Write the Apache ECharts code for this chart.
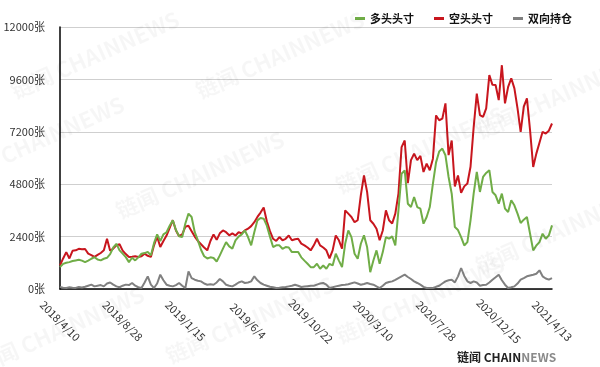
<!DOCTYPE html>
<html>
<head>
<meta charset="utf-8">
<script src="https://cdn.jsdelivr.net/npm/echarts@6/dist/echarts.min.js"></script>
<style>
html,body{margin:0;padding:0;background:#fff;}
#c{width:600px;height:367px;}
</style>
</head>
<body>
<div id="c"></div>
<script>
var startDate = [2018, 4, 10];
var weekCount = 158;
var seriesNames = ['多头头寸', '空头头寸', '双向持仓'];
var yTicks = [0, 2400, 4800, 7200, 9600, 12000];

var longPos = [
1000,1150,1200,1230,1280,1310,1340,1300,1230,1300,
1385,1460,1350,1310,1385,1430,1600,1900,2070,1770,
1620,1460,1230,1430,1310,1450,1614,1645,1700,1540,
2100,2500,2200,2500,2600,2900,3150,2700,2420,2380,
3000,3450,3300,2600,2230,1800,1500,1400,1450,1420,
1260,1540,1850,2150,1950,1850,2230,2400,2500,2680,
2380,2000,2600,3144,3250,3220,2900,2400,1920,2000,
2000,1843,1920,1900,1690,1700,1690,1450,1300,1155,
1000,1000,1155,926,1079,926,1155,1079,1614,1300,
1002,2072,2686,2378,1614,1385,2072,2456,1920,771,
1308,1767,1155,1690,2378,2302,2410,2000,3603,5279,
5432,3905,3753,4212,3753,3677,2992,3297,3753,4824,
5800,6300,6430,6124,5130,4365,2835,2700,2378,1995,
2148,3145,4369,5363,4445,5133,5317,5440,4445,4292,
3910,4369,3680,3527,4062,3833,3450,3022,3175,3297,
2532,1767,1995,2148,2532,2302,2455,2914
];
var shortPos = [
1080,1400,1690,1400,1750,1770,1840,1820,1830,1620,
1550,1470,1560,1650,1770,2300,1750,1850,2000,2050,
1760,1600,1470,1480,1500,1470,1500,1620,1520,1470,
2000,2400,1920,2200,2450,2800,3150,2680,2420,2500,
2850,2900,2650,2400,2200,2050,1900,1770,2200,2500,
2250,2550,2680,2600,2460,2550,2450,2600,2550,2680,
2760,2880,3060,3300,3500,3730,3100,2650,2300,2200,
2380,2230,2300,2450,2230,2280,2300,2080,2000,1900,
1770,2000,2300,2000,1900,1770,1400,1770,2450,2230,
1850,3600,3450,3300,3060,3150,4300,5200,4450,3150,
2990,2760,2230,2680,3600,3150,3000,3450,4365,6500,
6800,4850,5900,6200,5900,6100,5360,5740,5440,5970,
7950,7730,7800,8500,6130,6800,4700,5200,4400,4700,
4830,5600,7400,8950,7960,7880,8270,9800,9350,9340,
8650,10250,8500,9260,9650,9190,8270,7200,8350,8730,
7270,5590,6200,6700,7200,7120,7250,7580
];
var bothPos = [
90,60,50,80,60,50,90,70,100,150,
200,120,150,180,120,250,300,200,120,80,
150,200,180,275,150,80,45,300,580,200,
45,250,656,400,197,150,120,180,275,150,
45,810,500,427,380,350,250,197,220,197,
300,457,350,197,150,120,200,300,350,275,
300,350,580,400,275,200,150,100,80,45,
60,80,90,120,150,197,150,90,110,130,
150,150,200,250,275,200,45,80,120,150,
180,197,220,260,303,250,197,230,275,230,
197,120,45,150,275,320,350,420,503,580,
656,550,457,350,275,197,100,45,45,45,
100,150,250,350,400,427,303,580,962,600,
350,275,350,300,150,180,197,300,427,540,
656,400,197,45,80,120,250,427,500,580,
620,656,700,855,580,480,427,503
];

var categories = [];
(function(){
  var d = new Date(Date.UTC(startDate[0], startDate[1]-1, startDate[2]));
  for (var i = 0; i < weekCount; i++) {
    categories.push(d.getUTCFullYear() + '/' + (d.getUTCMonth()+1) + '/' + d.getUTCDate());
    d = new Date(d.getTime() + 7*86400000);
  }
})();

var colors = ['#70AD47', '#C8161E', '#808080'];
var font = '"Noto Sans CJK SC", "Noto Sans", sans-serif';

var wm = [];
var wmPos = [[95,55],[280,55],[560,95],[40,140],[200,175],[420,150],[560,230],[60,330],[250,320],[420,300]];
wmPos.forEach(function(p){
  wm.push({
    type:'text', x:p[0], y:p[1], rotation:0.42, z:100, silent:true,
    style:{text:'链闻 CHAINNEWS', fill:'rgba(0,0,0,0.035)', font:'bold 22px ' + font, textAlign:'center', textVerticalAlign:'middle'}
  });
});
wm.push({type:'text', left:457, top:351, z:100,
  style:{
    text:'{a|链闻 CHAIN}{b|NEWS}',
    rich:{
      a:{fill:'#222', font:'bold 12px ' + font},
      b:{fill:'#8a8a8a', font:'bold 12px ' + font}
    }
  }});

var chart = echarts.init(document.getElementById('c'), null, {renderer:'canvas'});
chart.setOption({
  animation:false,
  color: colors,
  textStyle:{fontFamily: font},
  legend:{
    right:23, top:8, itemWidth:10, itemHeight:3, itemGap:20, icon:'rect',
    textStyle:{fontSize:11, color:'#111', fontWeight:'bold', fontFamily: font},
    data: seriesNames
  },
  grid:{left:60, right:48, top:27, bottom:78},
  xAxis:{
    type:'category', data:categories, boundaryGap:false,
    axisLine:{lineStyle:{color:'#000', width:1.5}},
    axisTick:{show:false},
    axisLabel:{
      interval:function(idx){ return idx % 20 === 0 || idx === weekCount-1; },
      rotate:-45, align:'center', verticalAlign:'middle', margin:32,
      fontSize:11, color:'#333', fontFamily: font
    },
    splitLine:{show:false}
  },
  yAxis:{
    type:'value', min:yTicks[0], max:yTicks[yTicks.length-1], interval:yTicks[1]-yTicks[0],
    axisLine:{show:true, lineStyle:{color:'#000', width:1.5}},
    axisTick:{show:false},
    axisLabel:{formatter:function(v){ return String(v) + '张'; }, fontSize:11, color:'#333', margin:15, fontFamily: font},
    splitLine:{lineStyle:{color:'#cfcfcf', width:1}}
  },
  series:[
    {name:seriesNames[0], type:'line', data:longPos, symbol:'none', lineStyle:{width:2}, z:3},
    {name:seriesNames[1], type:'line', data:shortPos, symbol:'none', lineStyle:{width:2}, z:2},
    {name:seriesNames[2], type:'line', data:bothPos, symbol:'none', lineStyle:{width:2}, z:1}
  ],
  graphic: wm
});
</script>
</body>
</html>
